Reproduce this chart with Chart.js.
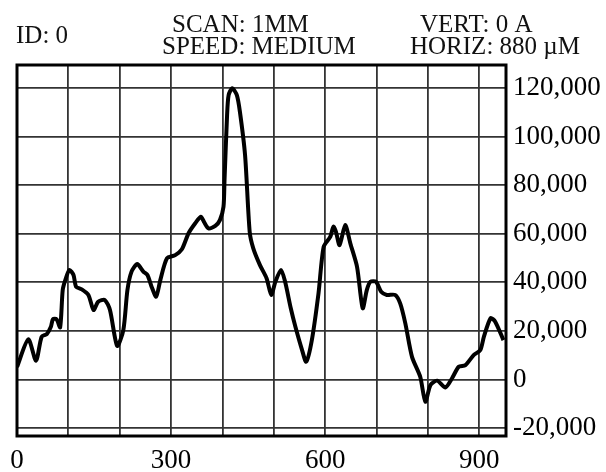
<!DOCTYPE html>
<html lang="en">
<head>
    <meta charset="UTF-8">
    <title>Scan Profile</title>
    <style>
        body {
            margin: 0;
            padding: 0;
            background-color: #fff;
        }
        .chart-container {
            position: relative;
            width: 606px;
            height: 472px;
        }
    </style>
    <script src="https://cdn.jsdelivr.net/npm/chart.js"></script>
</head>
<body>
    <div class="chart-container">
        <canvas id="scanChart" width="606" height="472"></canvas>
    </div>
    <script>
        // scan position (x) and signal (y)
        const positions = [0, 22, 37, 48, 58, 66, 70, 77, 84, 89, 94, 102, 110, 115, 126, 139, 149, 158, 171, 181,
            195, 207, 215, 223, 234, 246, 254, 262, 271, 279, 292, 308, 321, 334, 347, 358, 364, 373, 386, 395,
            402, 404, 409, 412, 419, 428, 434, 444, 453, 460, 473, 486, 495, 503, 514, 522, 533, 542, 555, 563,
            574, 587, 597, 610, 616, 621, 628, 639, 649, 662, 673, 681, 688, 699, 709, 720, 736, 746, 756, 769,
            785, 795, 805, 818, 834, 847, 860, 873, 889, 902, 909, 922, 931, 947];
        const signal = [5100, 16500, 7700, 17600, 18700, 21700, 24800, 24800, 21500, 36800, 40900, 45100, 43000, 38200, 37100, 34800, 28600, 32000, 32700, 28600,
            13800, 20300, 36800, 44400, 47500, 44400, 43000, 38200, 34100, 40900, 49900, 51200, 53600, 60200, 64300, 67000, 64900, 62200, 63200, 65600,
            71100, 82100, 108900, 117100, 119900, 117100, 110200, 92400, 60800, 54000, 47100, 41600, 34800, 40200, 45100, 40200, 29300, 21700, 12100, 7300,
            16200, 35500, 54600, 58800, 62900, 60800, 55300, 63600, 56000, 46400, 29300, 36800, 40200, 40200, 36100, 34800, 34800, 31300, 23100, 9300,
            1100, -9200, -2300, -500, -3300, 500, 5200, 5900, 10000, 12100, 17600, 25200, 23800, 16200];

        const xTickLabels = [0, 300, 600, 900];
        const yTickLabels = [-20000, 0, 20000, 40000, 60000, 80000, 100000, 120000];

        const headerTexts = [
            { text: "ID: 0", x: 16, y: 43 },
            { text: "SCAN: 1MM", x: 172, y: 32 },
            { text: "SPEED: MEDIUM", x: 162, y: 54 },
            { text: "VERT: 0 A", x: 420, y: 32 },
            { text: "HORIZ: 880 \u00b5M", x: 410, y: 54 },
        ];

        const FONT = "'Liberation Serif', 'Times New Roman', serif";

        // header text and the heavy frame round the plot
        const frameAndHeader = {
            id: "frameAndHeader",
            afterDraw(chart) {
                const { ctx, chartArea } = chart;
                ctx.save();
                ctx.fillStyle = "#111";
                ctx.font = "25px " + FONT;
                ctx.textBaseline = "alphabetic";
                ctx.textAlign = "left";
                headerTexts.forEach(h => ctx.fillText(h.text, h.x, h.y));
                ctx.strokeStyle = "#000";
                ctx.lineWidth = 3;
                ctx.strokeRect(chartArea.left, chartArea.top,
                    chartArea.right - chartArea.left, chartArea.bottom - chartArea.top);
                ctx.restore();
            },
        };

        const ctx = document.getElementById("scanChart").getContext("2d");
        new Chart(ctx, {
            type: "line",
            data: {
                datasets: [{
                    data: positions.map((p, i) => ({ x: p, y: signal[i] })),
                    borderColor: "#000",
                    borderWidth: 4,
                    pointRadius: 0,
                    tension: 0.25,
                    fill: false,
                }],
            },
            options: {
                responsive: false,
                animation: false,
                layout: { padding: { left: 17, top: 65, right: 0, bottom: 0 } },
                plugins: {
                    legend: { display: false },
                    tooltip: { enabled: false },
                },
                scales: {
                    x: {
                        type: "linear",
                        min: 0,
                        max: 952,
                        afterBuildTicks(scale) {
                            const ticks = [];
                            for (let v = 0; v <= 900; v += 100) ticks.push({ value: v });
                            scale.ticks = ticks;
                        },
                        afterFit(scale) { scale.height = 36; },
                        grid: { color: "#333", lineWidth: 1.8, drawTicks: false },
                        border: { display: false },
                        ticks: {
                            color: "#000",
                            padding: 9,
                            maxRotation: 0,
                            autoSkip: false,
                            font: { family: FONT, size: 27 },
                            callback: v => xTickLabels.includes(v) ? String(v) : "",
                        },
                    },
                    y: {
                        position: "right",
                        min: -23300,
                        max: 129500,
                        afterBuildTicks(scale) {
                            scale.ticks = yTickLabels.map(v => ({ value: v }));
                        },
                        afterFit(scale) { scale.width = 100; },
                        grid: { color: "#333", lineWidth: 1.8, drawTicks: false },
                        border: { display: false },
                        ticks: {
                            color: "#000",
                            padding: 7,
                            autoSkip: false,
                            font: { family: FONT, size: 27 },
                            callback: v => v.toLocaleString("en-US"),
                        },
                    },
                },
            },
            plugins: [frameAndHeader],
        });
    </script>
</body>
</html>
